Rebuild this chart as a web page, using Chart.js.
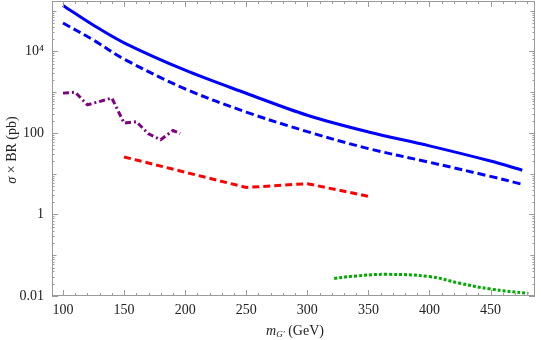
<!DOCTYPE html>
<html lang="en">
<head>
    <meta charset="UTF-8">
    <title>Cross section times BR</title>
    <script src="https://cdn.jsdelivr.net/npm/chart.js"></script>
    <style>
        html, body { margin: 0; padding: 0; background: #fff; }
        #wrap { width: 541px; height: 340px; }
    </style>
</head>
<body>
    <div id="wrap"><canvas id="chart" width="541" height="340"></canvas></div>
    <script>
        // masses (GeV) and sigma x BR (pb)
        const blueX = [100, 125, 150, 200, 250, 300, 350, 400, 450, 476];
        const blueSolid = [1.35e5, 4.4e4, 1.63e4, 3470, 942, 272, 106, 48.3, 20.5, 12.2];
        const blueDashed = [5.0e4, 1.9e4, 6500, 1210, 326, 108, 41.4, 19.1, 8.6, 5.5];
        const purpleX = [100, 110, 120, 140, 150, 160, 170, 180, 190, 196];
        const purpleY = [950, 1000, 490, 720, 175, 190, 95, 68, 115, 97];
        const redX = [150, 250, 300, 350];
        const redY = [25.8, 4.6, 5.7, 2.8];
        const greenX = [322, 340, 365, 400, 425, 450, 481];
        const greenY = [0.027, 0.031, 0.034, 0.030, 0.0205, 0.0148, 0.0116];

        const xTicks = [100, 150, 200, 250, 300, 350, 400, 450];
        const yTicks = [0.01, 1, 100, 1e4];
        const yTickLabels = ['0.01', '1', '100', '10\u2074'];

        const serif = '"Liberation Serif", "DejaVu Serif", serif';

        function pts(xs, ys) {
            return xs.map((x, i) => ({ x: x, y: ys[i] }));
        }

        // frame with inward ticks, axis titles
        const framePlugin = {
            id: 'frame',
            afterDraw(chart) {
                const ctx = chart.ctx;
                const a = chart.chartArea;
                const xs = chart.scales.x, ys = chart.scales.y;
                ctx.save();
                ctx.strokeStyle = '#9a9a9a';
                ctx.lineWidth = 1;
                ctx.strokeRect(a.left + 0.5, a.top + 0.5, a.right - a.left - 1, a.bottom - a.top - 1);

                const tick = (x1, y1, x2, y2) => {
                    ctx.beginPath();
                    ctx.moveTo(x1, y1);
                    ctx.lineTo(x2, y2);
                    ctx.stroke();
                };

                for (let v = 100; v <= 480; v += 10) {
                    const len = v % 50 === 0 ? 6 : 3;
                    const px = Math.round(xs.getPixelForValue(v)) + 0.5;
                    tick(px, a.bottom, px, a.bottom - len);
                    tick(px, a.top, px, a.top + len);
                }

                for (let e = -3; e <= 5; e++) {
                    for (let m = 1; m <= 9; m++) {
                        const v = m * Math.pow(10, e);
                        if (v < ys.min || v > ys.max) continue;
                        let len = 2.5;
                        if (m === 1) len = (e % 2 === 0) ? 6 : 4.5;
                        const py = Math.round(ys.getPixelForValue(v)) + 0.5;
                        tick(a.left, py, a.left + len, py);
                        tick(a.right, py, a.right - len, py);
                    }
                }

                // axis titles
                ctx.fillStyle = '#222';
                ctx.textBaseline = 'middle';
                ctx.save();
                ctx.translate(12, 150);
                ctx.rotate(-Math.PI / 2);
                const sig = '\u03c3';
                ctx.font = '14px ' + serif;
                const rest = ' \u00d7 BR (pb)';
                const wRest = ctx.measureText(rest).width;
                ctx.font = 'italic 14px ' + serif;
                const wSig = ctx.measureText(sig).width;
                const start = -(wRest + wSig) / 2;
                ctx.textAlign = 'left';
                ctx.fillText(sig, start, 0);
                ctx.font = '14px ' + serif;
                ctx.fillText(rest, start + wSig, 0);
                ctx.restore();

                ctx.textAlign = 'left';
                ctx.font = 'italic 14px ' + serif;
                const wm = ctx.measureText('m').width;
                ctx.font = 'italic 9px ' + serif;
                const wg = ctx.measureText('G\u2032').width;
                ctx.font = '14px ' + serif;
                const wt = ctx.measureText(' (GeV)').width;
                const x0 = 295 - (wm + wg + wt) / 2;
                const yT = 331;
                ctx.font = 'italic 14px ' + serif;
                ctx.fillText('m', x0, yT);
                ctx.font = 'italic 9px ' + serif;
                ctx.fillText('G\u2032', x0 + wm, yT + 4);
                ctx.font = '14px ' + serif;
                ctx.fillText(' (GeV)', x0 + wm + wg, yT);
                ctx.restore();
            }
        };

        new Chart(document.getElementById('chart'), {
            type: 'line',
            data: {
                datasets: [
                    { data: pts(blueX, blueSolid), borderColor: '#0000ff', borderWidth: 3, tension: 0.35 },
                    { data: pts(blueX, blueDashed), borderColor: '#0000ff', borderWidth: 3, borderDash: [8, 4], tension: 0.35 },
                    { data: pts(purpleX, purpleY), borderColor: '#800080', borderWidth: 3, borderDash: [6, 3, 2, 3], tension: 0 },
                    { data: pts(redX, redY), borderColor: '#ff0000', borderWidth: 3, borderDash: [7, 4], tension: 0 },
                    { data: pts(greenX, greenY), borderColor: '#00aa00', borderWidth: 3, borderDash: [3, 2], tension: 0.4 }
                ]
            },
            options: {
                responsive: false,
                animation: false,
                layout: { padding: { top: 1, right: 6, left: 0, bottom: 0 } },
                elements: { point: { radius: 0 } },
                plugins: { legend: { display: false }, tooltip: { enabled: false } },
                scales: {
                    x: {
                        type: 'linear',
                        min: 91,
                        max: 486.4,
                        grid: { display: false, drawTicks: false },
                        border: { display: false },
                        afterBuildTicks: s => { s.ticks = xTicks.map(v => ({ value: v })); },
                        afterFit: s => { s.height = 44; s.paddingLeft = 0; s.paddingRight = 0; },
                        ticks: {
                            padding: 6,
                            maxRotation: 0,
                            color: '#222',
                            font: { family: serif, size: 14 },
                            callback: v => String(v)
                        }
                    },
                    y: {
                        type: 'logarithmic',
                        min: 0.01,
                        max: 1.73e5,
                        grid: { display: false, drawTicks: false },
                        border: { display: false },
                        afterBuildTicks: s => { s.ticks = yTicks.map(v => ({ value: v })); },
                        afterFit: s => { s.width = 52; s.paddingTop = 0; s.paddingBottom = 0; },
                        ticks: {
                            padding: 8,
                            color: '#222',
                            font: { family: serif, size: 14 },
                            callback: v => yTickLabels[yTicks.indexOf(v)]
                        }
                    }
                }
            },
            plugins: [framePlugin]
        });
    </script>
</body>
</html>
